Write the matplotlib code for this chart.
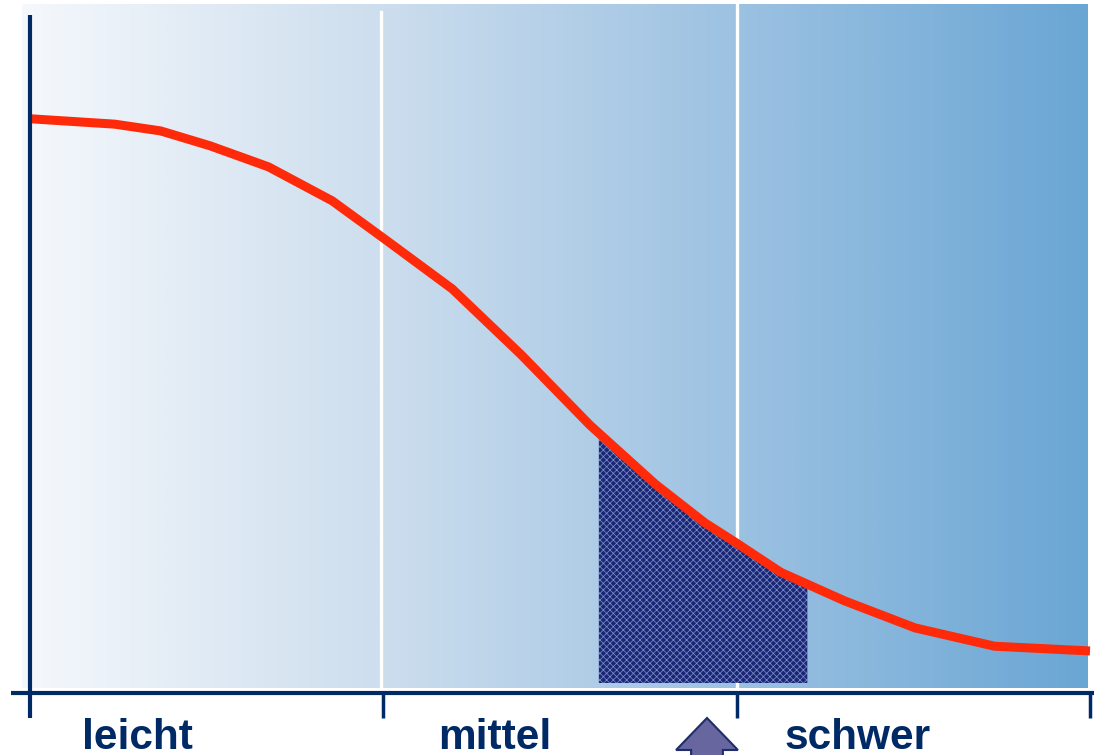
import numpy as np
import matplotlib
matplotlib.use("Agg")
import matplotlib.pyplot as plt
from matplotlib.colors import LinearSegmentedColormap
from matplotlib.patches import FancyArrow

# Difficulty bands along the x axis
categories = ["leicht", "mittel", "schwer"]
band_edges = [0.0, 1.0, 2.0, 3.0]

# Falling curve (x in band units, y as relative value)
curve_x = [0.0, 0.24, 0.37, 0.51, 0.675, 0.855, 1.0, 1.195, 1.39, 1.585,
           1.77, 1.91, 2.0, 2.125, 2.305, 2.505, 2.73, 3.0]
curve_y = [0.847, 0.839, 0.829, 0.807, 0.776, 0.726, 0.671, 0.596, 0.499, 0.395,
           0.308, 0.251, 0.221, 0.178, 0.136, 0.096, 0.069, 0.062]

# Highlighted interval under the curve
shade_start, shade_end = 1.61, 2.2
# Position marked by the arrow below the axis
marker_x = 1.916

plt.rcParams["font.family"] = ["Liberation Sans", "DejaVu Sans"]
plt.rcParams["hatch.linewidth"] = 0.5

W, H, DPI = 1094, 755, 100
fig = plt.figure(figsize=(W / DPI, H / DPI), dpi=DPI, facecolor="white")
ax = fig.add_axes([0, 0, 1, 1])
ax.set_axis_off()

# pixel -> data mapping: x: 30px -> 0, 1090px -> 3 ; y: 693px -> 0, 15px -> 1
sx = (1090 - 30) / 3.0
sy = (693 - 15) / 1.0
ax.set_xlim(-30 / sx, (W - 30) / sx)
ax.set_ylim(-(H - 693) / sy, 693 / sy)

navy = "#002a66"

# Gradient background
grad = LinearSegmentedColormap.from_list(
    "bg", ["#f5f8fc", "#cddeee", "#9dc2e2", "#6aa6d4"])
bx0, bx1 = -8 / sx, 2.994
by0, by1 = 5 / sy, (693 - 5) / sy
ax.imshow(np.linspace(0, 1, 512)[None, :], cmap=grad, aspect="auto",
          extent=[bx0, bx1, by0, by1], zorder=0, interpolation="bilinear")

# White band separators
ax.plot([0.993, 0.993], [by0, 1.004], color="white", lw=2.4, zorder=1)
ax.plot([band_edges[2], band_edges[2]], [by0, by1], color="white", lw=2.4, zorder=1)

# Shaded interval under the curve
xs = np.linspace(shade_start, shade_end, 200)
ys = np.interp(xs, curve_x, curve_y)
ax.fill_between(xs, by0 + 5 / sy, ys, facecolor="#1b2775", edgecolor="#7f93cc",
                hatch="xxxxx", linewidth=0, zorder=2)

# Curve
ax.plot(curve_x, curve_y, color="#ff2a0a", lw=6.5, solid_capstyle="butt",
        solid_joinstyle="round", zorder=3)

# Axes lines and ticks
ax.plot([0, 0], [-25 / sy, 678 / sy], color=navy, lw=3, zorder=4,
        solid_capstyle="butt")
ax.plot([-19 / sx, (W - 30) / sx], [0, 0], color=navy, lw=3, zorder=4,
        solid_capstyle="butt")
for e in band_edges[1:]:
    ax.plot([e, e], [0, -25 / sy], color=navy, lw=2.5, zorder=4,
            solid_capstyle="butt")

# Band labels
label_x = [0.303, 1.316, 2.341]
for lx, name in zip(label_x, categories):
    ax.text(lx, -56 / sy, name, ha="center", va="baseline", fontsize=30.5,
            fontweight="bold", color=navy, zorder=5)

# Arrow marker
tip = -25 / sy
head_len = 32 / sy
start = -0.2
ax.add_patch(FancyArrow(marker_x, start, 0, tip - start, width=0.09,
                        head_width=0.175, head_length=head_len,
                        length_includes_head=True, facecolor="#67669e",
                        edgecolor="#1f2d6b", lw=1.5, zorder=5))

fig.savefig("out.png", dpi=DPI, facecolor="white")
